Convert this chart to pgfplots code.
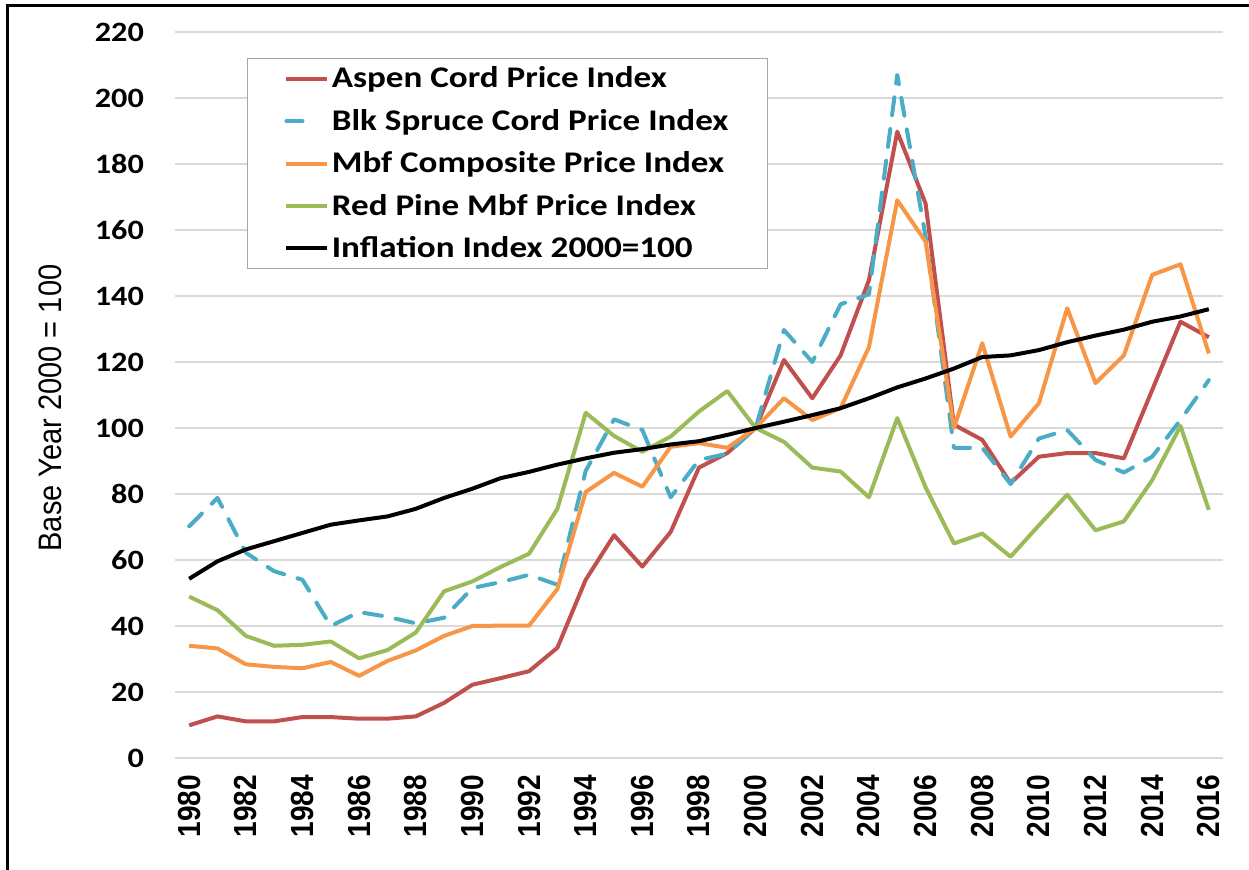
\documentclass[border=0pt]{standalone}
\usepackage{pgfplots}
\pgfplotsset{compat=1.18}
\usepackage{pgfplotstable}
\usepackage{fontspec}
\setmainfont{Carlito}
\newfontfamily\arialfont{Liberation Sans}
\definecolor{cRed}{HTML}{C0504D}
\definecolor{cBlue}{HTML}{4BACC6}
\definecolor{cOrange}{HTML}{F79646}
\definecolor{cGreen}{HTML}{9BBB59}
\definecolor{cGrid}{HTML}{D9D9D9}

\pgfplotstableread{
Year Aspen Spruce Mbf RedPine Infl
1980 9.9 70.2 34 48.9 54.3
1981 12.6 78.8 33.2 44.8 59.6
1982 11.1 62.2 28.4 37 63.2
1983 11.1 56.6 27.6 34 65.7
1984 12.4 54 27.2 34.3 68.2
1985 12.4 40 29.1 35.3 70.7
1986 11.9 44.2 24.9 30.2 72
1987 11.9 42.8 29.4 32.7 73.2
1988 12.6 40.8 32.6 38 75.5
1989 16.7 42.5 37 50.5 78.8
1990 22.2 51.5 40 53.5 81.6
1991 24.2 53.3 40.1 57.9 84.8
1992 26.3 55.5 40.1 61.9 86.7
1993 33.4 52.5 51.2 75.5 88.9
1994 54 87 80.6 104.6 90.8
1995 67.5 102.6 86.4 97.6 92.5
1996 58 99.4 82.2 92.8 93.6
1997 68.5 79 94.3 97.4 95
1998 88 90.3 95.4 105 96
1999 92.4 92.2 94 111.2 97.9
2000 100 100 100 100 100
2001 120.6 129.7 109 95.8 101.9
2002 109 120 102.4 88 103.9
2003 122 137.5 106 86.8 106
2004 144.8 140.5 124.5 79 109
2005 189.8 207 169 103 112.3
2006 168 158 156.5 82 115
2007 101 94 100 65 118
2008 96.4 94 125.7 68 121.5
2009 83.3 83 97.4 61 122
2010 91.3 96.8 107.5 70.5 123.6
2011 92.4 99.4 136.3 79.8 126
2012 92.4 90.3 113.6 69 128
2013 90.8 86.5 122 71.7 129.8
2014 111.5 91.3 146.4 84.2 132.2
2015 132.2 102.4 149.6 100.6 133.8
2016 127.5 114.5 122.6 75.2 136
}\data

\begin{document}
\begin{tikzpicture}
\path[use as bounding box] (-87.5pt,-56pt) rectangle (537pt,379pt);
\draw[line width=1.5pt] (-83.5pt,-60pt) -- (-83.5pt,376pt) -- (540pt,376pt);
\begin{axis}[
  scale only axis, width=524pt, height=363pt,
  at={(0pt,0pt)}, anchor=south west,
  xmin=1979.5, xmax=2016.5, ymin=0, ymax=220,
  xtick={1980,1982,...,2016}, ytick={0,20,...,220},
  axis line style={draw=none},
  ymajorgrids, grid style={cGrid, line width=0.75pt},
  major tick length=0pt,
  /pgf/number format/1000 sep={},
  /pgf/number format/assume math mode=true,
  yticklabel style={font=\fontsize{14}{14}\selectfont\bfseries, xscale=1.15, anchor=east},
  yticklabel shift=11.5pt,
  xticklabel style={font=\arialfont\bfseries\fontsize{14}{14}\selectfont, xscale=1.14, rotate=90, anchor=east},
  xticklabel shift=5pt,
  every axis y label/.style={at={(axis description cs:-0.119,0.482)}, xscale=1.12, rotate=90, anchor=center,
    font=\arialfont\fontsize{14.5}{14.5}\selectfont},
  ylabel={Base Year 2000 = 100},
  legend style={at={(axis description cs:0.0687,0.964)}, anchor=north west,
    draw=gray!70, line width=0.5pt, font=\fontsize{15}{15}\selectfont\bfseries,
    inner xsep=18.5pt, inner ysep=1.5pt, row sep=4.2pt,
    nodes={inner xsep=1pt, inner ysep=2.5pt, xscale=1.17}},
  legend cell align=left,
  legend image code/.code={\draw[#1] (0pt,0pt) -- (20.5pt,0pt);},
  every axis plot/.append style={line width=2pt, line join=round},
]
\addplot[cRed] table[x=Year, y=Aspen] {\data};
\addlegendentry{Aspen Cord Price Index}
\addplot[cBlue, dash pattern=on 9pt off 7pt, line cap=round,
  legend image post style={dash pattern=on 8pt off 30pt}] table[x=Year, y=Spruce] {\data};
\addlegendentry{Blk Spruce Cord Price Index}
\addplot[cOrange] table[x=Year, y=Mbf] {\data};
\addlegendentry{Mbf Composite Price Index}
\addplot[cGreen] table[x=Year, y=RedPine] {\data};
\addlegendentry{Red Pine Mbf Price Index}
\addplot[black] table[x=Year, y=Infl] {\data};
\addlegendentry{Inflation Index 2000=100}
\end{axis}
\end{tikzpicture}
\end{document}
